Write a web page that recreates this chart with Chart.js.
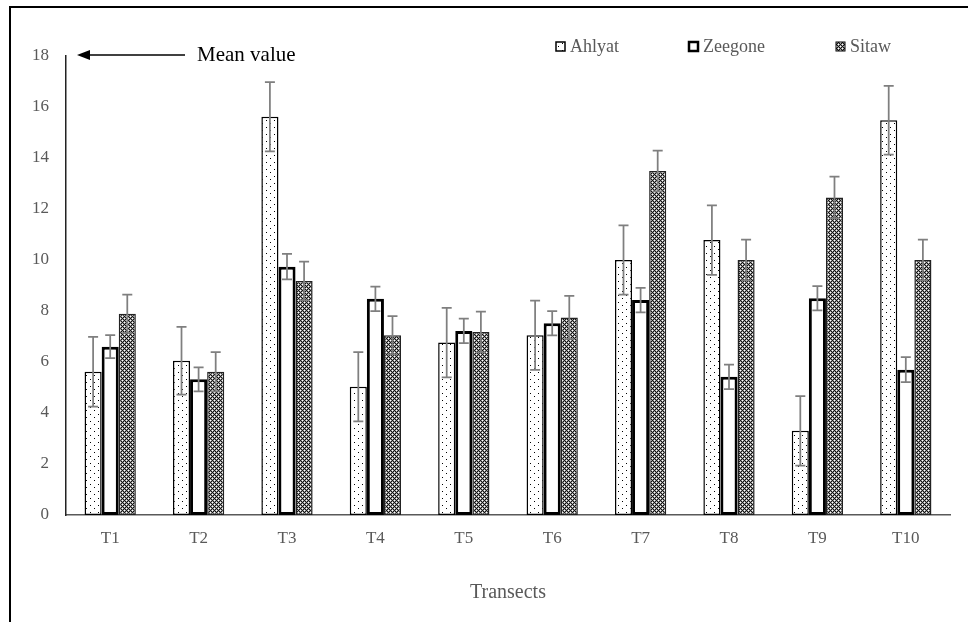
<!DOCTYPE html>
<html>
<head>
<meta charset="utf-8">
<title>Transects</title>
<script src="https://cdn.jsdelivr.net/npm/chart.js@4.4.1/dist/chart.umd.min.js"></script>
<style>
  body { margin: 0; background: #fff; overflow: hidden; }
  #frame { position: absolute; left: 9px; top: 6px; width: 1000px; height: 700px;
           border-left: 2px solid #000; border-top: 2px solid #000; }
  #chart { position: absolute; left: 0; top: 0; }
</style>
</head>
<body>
<div id="frame"></div>
<canvas id="chart" width="968" height="622"></canvas>
<script>

/******************************************************************
DATA
******************************************************************/

var transects = ["T1", "T2", "T3", "T4", "T5", "T6", "T7", "T8", "T9", "T10"];

var ahlyat  = [5.62, 6.05, 15.62, 5.03, 6.76, 7.05, 10.0, 10.78, 3.3, 15.48];
var zeegone = [6.6, 5.32, 9.74, 8.48, 7.22, 7.52, 8.43, 5.42, 8.5, 5.7];
var sitaw   = [7.89, 5.62, 9.18, 7.05, 7.18, 7.75, 13.49, 10.0, 12.45, 10.0];

var ahlyatErr  = [1.37, 1.33, 1.36, 1.36, 1.36, 1.36, 1.36, 1.36, 1.36, 1.35];
var zeegoneErr = [0.45, 0.47, 0.5, 0.48, 0.48, 0.48, 0.48, 0.48, 0.48, 0.49];
var sitawErr   = [0.75, 0.77, 0.76, 0.75, 0.8, 0.84, 0.8, 0.8, 0.82, 0.8];

var yTicks = [0, 2, 4, 6, 8, 10, 12, 14, 16, 18];

var serif = "'Liberation Serif', 'Times New Roman', serif";
var grey = "#595959";

/******************************************************************
FILL PATTERNS
******************************************************************/

function dotPattern() {
  var c = document.createElement("canvas");
  c.width = 8; c.height = 7;
  var g = c.getContext("2d");
  g.fillStyle = "#fff";
  g.fillRect(0, 0, 8, 7);
  g.fillStyle = "#000";
  g.fillRect(2, 1, 1, 1);
  g.fillRect(6, 4, 1, 1);
  return g.createPattern(c, "repeat");
}

// diagonal cross hatch: dark diagonals, white hole centres
function crossPattern() {
  var c = document.createElement("canvas");
  c.width = 4; c.height = 4;
  var g = c.getContext("2d");
  g.fillStyle = "#999";
  g.fillRect(0, 0, 4, 4);
  g.fillStyle = "#111";
  [[0, 0], [1, 1], [2, 2], [3, 3], [3, 1], [1, 3]].forEach(function (p) {
    g.fillRect(p[0], p[1], 1, 1);
  });
  g.fillStyle = "#fff";
  g.fillRect(2, 0, 1, 1);
  g.fillRect(0, 2, 1, 1);
  return g.createPattern(c, "repeat");
}

var dots = dotPattern();
var cross = crossPattern();

/******************************************************************
PLUGINS: ERROR BARS, LEGEND, MEAN VALUE ARROW
******************************************************************/

var errors = [ahlyatErr, zeegoneErr, sitawErr];

var errorBars = {
  id: "errorBars",
  afterDatasetsDraw: function (chart) {
    var ctx = chart.ctx;
    var y = chart.scales.y;
    ctx.save();
    ctx.strokeStyle = "#7f7f7f";
    ctx.lineWidth = 1.75;
    chart.data.datasets.forEach(function (ds, i) {
      var meta = chart.getDatasetMeta(i);
      meta.data.forEach(function (bar, j) {
        var v = ds.data[j];
        var e = errors[i][j];
        var top = y.getPixelForValue(v + e);
        var bot = y.getPixelForValue(v - e);
        ctx.beginPath();
        ctx.moveTo(bar.x, top);
        ctx.lineTo(bar.x, bot);
        ctx.moveTo(bar.x - 5, top);
        ctx.lineTo(bar.x + 5, top);
        ctx.moveTo(bar.x - 5, bot);
        ctx.lineTo(bar.x + 5, bot);
        ctx.stroke();
      });
    });
    ctx.restore();
  }
};

var legendBoxes = {
  id: "legendBoxes",
  afterDraw: function (chart) {
    var ctx = chart.ctx;
    var items = [
      { x: 556, fill: dots, lw: 1.5 },
      { x: 689, fill: "#fff", lw: 2.5 },
      { x: 836, fill: cross, lw: 1 }
    ];
    ctx.save();
    ctx.font = "18px " + serif;
    ctx.textBaseline = "middle";
    items.forEach(function (it, i) {
      ctx.fillStyle = it.fill;
      ctx.fillRect(it.x, 42, 9, 9);
      ctx.strokeStyle = "#000";
      ctx.lineWidth = it.lw;
      ctx.strokeRect(it.x, 42, 9, 9);
      ctx.fillStyle = grey;
      ctx.fillText(chart.data.datasets[i].label, it.x + 14, 47);
    });
    ctx.restore();
  }
};

var meanArrow = {
  id: "meanArrow",
  afterDraw: function (chart) {
    var ctx = chart.ctx;
    var yy = chart.scales.y.getPixelForValue(18) - 1;
    ctx.save();
    ctx.strokeStyle = "#000";
    ctx.fillStyle = "#000";
    ctx.lineWidth = 1.5;
    ctx.beginPath();
    ctx.moveTo(88, yy);
    ctx.lineTo(185, yy);
    ctx.stroke();
    ctx.beginPath();
    ctx.moveTo(77, yy);
    ctx.lineTo(90, yy - 5);
    ctx.lineTo(90, yy + 5);
    ctx.closePath();
    ctx.fill();
    ctx.font = "21px " + serif;
    ctx.textBaseline = "middle";
    ctx.fillText("Mean value", 197, yy);
    ctx.restore();
  }
};

/******************************************************************
CHART
******************************************************************/

var ctx = document.getElementById("chart").getContext("2d");

var chartHandle = new Chart(ctx, {
  type: "bar",
  data: {
    labels: transects,
    datasets: [{
      label: "Ahlyat",
      data: ahlyat,
      backgroundColor: dots,
      borderColor: "#000",
      borderWidth: 1.5,
      borderSkipped: false
    }, {
      label: "Zeegone",
      data: zeegone,
      backgroundColor: "#fff",
      borderColor: "#000",
      borderWidth: 3,
      borderSkipped: false
    }, {
      label: "Sitaw",
      data: sitaw,
      backgroundColor: cross,
      borderColor: "#222",
      borderWidth: 1.5,
      borderSkipped: false
    }]
  },
  options: {
    responsive: false,
    animation: false,
    layout: { padding: { left: 10, top: 56, right: 18, bottom: 0 } },
    datasets: { bar: { categoryPercentage: 0.58, barPercentage: 1.0 } },
    plugins: {
      legend: { display: false },
      tooltip: { enabled: false }
    },
    scales: {
      x: {
        grid: { display: false, drawTicks: false },
        border: { display: true, color: "#595959", width: 1.5 },
        ticks: { color: grey, font: { family: serif, size: 17 }, padding: 13 },
        title: {
          display: true,
          text: "Transects",
          color: grey,
          font: { family: serif, size: 20 },
          padding: { top: 0, bottom: 17 }
        },
        afterFit: function (scale) { scale.height = 107; }
      },
      y: {
        min: 0,
        max: 18,
        grid: { display: false, drawTicks: false },
        border: { display: true, color: "#222", width: 1.5 },
        afterBuildTicks: function (scale) {
          scale.ticks = yTicks.map(function (v) { return { value: v }; });
        },
        ticks: { color: grey, font: { family: serif, size: 17 }, padding: 17 },
        afterFit: function (scale) { scale.width = 56; }
      }
    }
  },
  plugins: [errorBars, legendBoxes, meanArrow]
}); // END CHART INSTANTIATOR

</script>
</body>
</html>
